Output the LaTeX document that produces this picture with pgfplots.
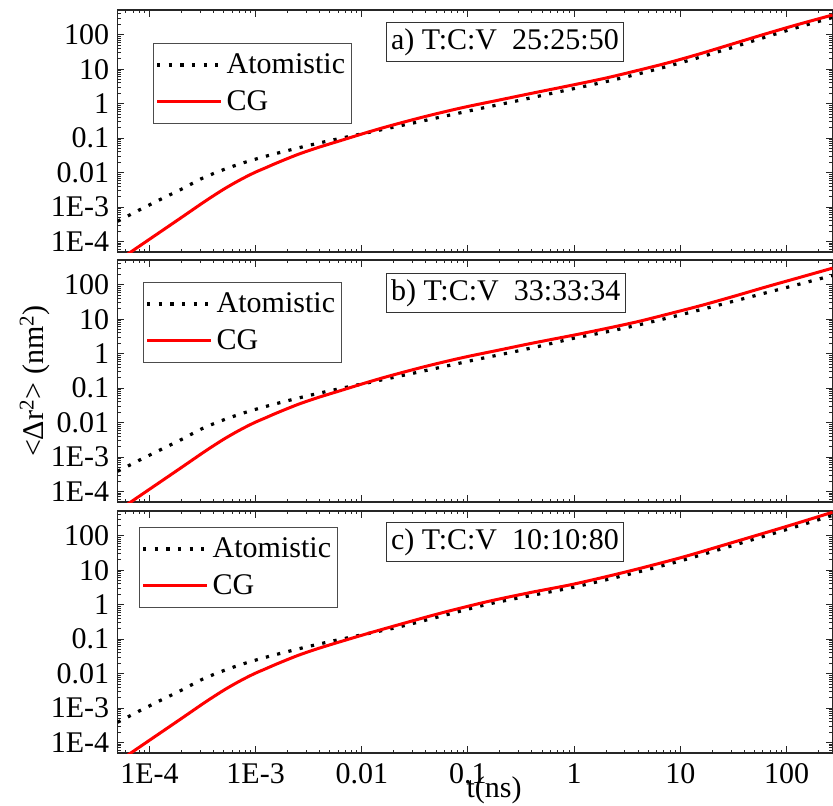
\documentclass[border=0pt]{standalone}
\usepackage{fontspec}
\setmainfont{Liberation Serif}
\usepackage{pgfplots}
\pgfplotsset{compat=1.18}

\newcommand{\lblfont}{\fontsize{15}{17.5}\selectfont}

\tikzset{
  atom/.style={black, line width=1.6pt, dash pattern=on 1.6pt off 4.2pt, smooth},
  cg/.style={red, line width=1.5pt, smooth},
  tagbox/.style={draw=black!80, line width=0.5pt, fill=white, font=\lblfont,
    inner xsep=2.3pt, inner ysep=3pt, anchor=north west},
}

\pgfplotsset{
  legend image code/.code={\draw[#1] (0pt,0pt) -- (32pt,0pt);},
  every axis/.append style={
    scale only axis, width=357.5pt, height=121pt,
    xmode=log, ymode=log,
    xmin=5e-5, xmax=271, ymin=5e-5, ymax=520,
    xtick={1e-4,1e-3,0.01,0.1,1,10,100},
    ytick={1e-4,1e-3,0.01,0.1,1,10,100},
    yticklabels={1E-4,1E-3,0.01,0.1,1,10,100},
    minor xtick={6e-5,7e-5,8e-5,9e-5,2e-4,3e-4,4e-4,5e-4,6e-4,7e-4,8e-4,9e-4,
      2e-3,3e-3,4e-3,5e-3,6e-3,7e-3,8e-3,9e-3,0.02,0.03,0.04,0.05,0.06,0.07,0.08,0.09,
      0.2,0.3,0.4,0.5,0.6,0.7,0.8,0.9,2,3,4,5,6,7,8,9,20,30,40,50,60,70,80,90,200},
    minor ytick={6e-5,7e-5,8e-5,9e-5,2e-4,3e-4,4e-4,5e-4,6e-4,7e-4,8e-4,9e-4,
      2e-3,3e-3,4e-3,5e-3,6e-3,7e-3,8e-3,9e-3,0.02,0.03,0.04,0.05,0.06,0.07,0.08,0.09,
      0.2,0.3,0.4,0.5,0.6,0.7,0.8,0.9,2,3,4,5,6,7,8,9,20,30,40,50,60,70,80,90,200,300,400,500},
    tick align=inside,
    major tick length=3.3pt, minor tick length=1.7pt,
    axis line style={black!85, line width=0.6pt},
    tick style={black!85, line width=0.5pt},
    tick label style={font=\lblfont},
    yticklabel style={inner xsep=4pt},
    xticklabel style={anchor=base, yshift=-15.25pt},
    legend cell align=left,
    legend style={font=\lblfont, draw=black!70, line width=0.5pt, anchor=north west,
      row sep=3pt, inner xsep=1pt, inner ysep=3pt},
  },
}

\begin{document}
\begin{tikzpicture}
\useasboundingbox (-58.75pt,5pt) rectangle (357.75pt,-397.5pt);

% (a) 25:25:50
\begin{axis}[at={(0pt,0pt)}, anchor=north west, xticklabels={},
  legend style={at={(0.0497,0.8636)}}]
\addplot[atom] coordinates {
  (5.01e-5,3.89e-4) (7.94e-5,8.13e-4) (1.26e-4,1.66e-3) (2.0e-4,3.31e-3) (3.16e-4,6.92e-3)
  (5.01e-4,0.0123) (7.94e-4,0.020) (1.26e-3,0.0302) (2.0e-3,0.0437) (3.16e-3,0.0617)
  (5.01e-3,0.0851) (7.94e-3,0.115) (0.0126,0.155) (0.02,0.209) (0.0316,0.282)
  (0.0631,0.447) (0.126,0.708) (0.251,1.10) (0.501,1.74) (1,2.75) (2,4.37) (3.98,7.24)
  (7.94,12.6) (15.8,22.9) (31.6,43.7) (63.1,85.1) (126,162) (271,316) };
\addplot[cg] coordinates {
  (5.01e-5,2.75e-5) (1e-4,1.17e-4) (2.0e-4,5.01e-4) (3.16e-4,1.32e-3) (3.98e-4,2.11e-3)
  (5.01e-4,3.31e-3) (6.31e-4,5.01e-3) (7.94e-4,7.33e-3) (1e-3,0.0104) (1.26e-3,0.0141)
  (1.58e-3,0.0191) (2.51e-3,0.0339) (3.98e-3,0.055) (6.31e-3,0.0851) (0.01,0.132)
  (0.0158,0.200) (0.0251,0.295) (0.0398,0.427) (0.0631,0.603) (0.1,0.832) (0.2,1.29)
  (0.398,2.0) (1,3.55) (2,5.56) (3.98,9.23) (7.94,15.8) (15.8,28.8) (31.6,55.0)
  (63.1,105) (126,195) (271,372) };
\legend{Atomistic, CG}
\node[tagbox] at (rel axis cs:0.3755,0.950) {a) T:C:V\ \ 25:25:50};
\end{axis}

% (b) 33:33:34
\begin{axis}[at={(0pt,-125pt)}, anchor=north west, xticklabels={},
  legend style={at={(0.0357,0.909)}}]
\addplot[atom] coordinates {
  (5.01e-5,3.89e-4) (7.94e-5,8.0e-4) (1.26e-4,1.62e-3) (2.0e-4,3.24e-3) (3.16e-4,6.8e-3)
  (5.01e-4,0.0121) (7.94e-4,0.0197) (1.26e-3,0.0298) (2.0e-3,0.0432) (3.16e-3,0.061)
  (5.01e-3,0.0841) (7.94e-3,0.114) (0.0126,0.153) (0.02,0.206) (0.0316,0.278)
  (0.0631,0.44) (0.126,0.70) (0.251,1.08) (0.501,1.72) (1,2.82) (2,4.27) (3.98,6.76)
  (7.94,11.2) (15.8,19.1) (31.6,33.1) (63.1,57.5) (126,100) (271,186) };
\addplot[cg] coordinates {
  (5.01e-5,2.75e-5) (1e-4,1.17e-4) (2.0e-4,5.01e-4) (3.16e-4,1.32e-3) (3.98e-4,2.11e-3)
  (5.01e-4,3.31e-3) (6.31e-4,5.01e-3) (7.94e-4,7.33e-3) (1e-3,0.0104) (1.26e-3,0.0141)
  (1.58e-3,0.0191) (2.51e-3,0.0339) (3.98e-3,0.055) (6.31e-3,0.0851) (0.01,0.132)
  (0.0158,0.200) (0.0251,0.295) (0.0398,0.427) (0.0631,0.603) (0.1,0.832) (0.2,1.29)
  (0.398,2.0) (1,3.47) (2,5.37) (3.98,8.51) (7.94,14.5) (15.8,25.1) (31.6,45.7)
  (63.1,85.1) (126,155) (271,302) };
\legend{Atomistic, CG}
\node[tagbox] at (rel axis cs:0.3755,0.946) {b) T:C:V\ \ 33:33:34};
\end{axis}

% (c) 10:10:80
\begin{axis}[at={(0pt,-250.5pt)}, anchor=north west,
  xticklabels={1E-4,1E-3,0.01,0.1,1,10,100},
  legend style={at={(0.0301,0.934)}}]
\addplot[atom] coordinates {
  (5.01e-5,3.89e-4) (7.94e-5,8.13e-4) (1.26e-4,1.66e-3) (2.0e-4,3.31e-3) (3.16e-4,6.92e-3)
  (5.01e-4,0.0123) (7.94e-4,0.020) (1.26e-3,0.0302) (2.0e-3,0.0437) (3.16e-3,0.0617)
  (5.01e-3,0.0851) (7.94e-3,0.115) (0.0126,0.155) (0.02,0.209) (0.0316,0.295)
  (0.0631,0.513) (0.158,1.05) (0.398,1.86) (1,3.24) (3.16,7.41) (10,18.6)
  (25.1,42.7) (100,151) (271,389) };
\addplot[cg] coordinates {
  (5.01e-5,2.75e-5) (1e-4,1.17e-4) (2.0e-4,5.01e-4) (3.16e-4,1.32e-3) (3.98e-4,2.11e-3)
  (5.01e-4,3.31e-3) (6.31e-4,5.01e-3) (7.94e-4,7.33e-3) (1e-3,0.0104) (1.26e-3,0.0141)
  (1.58e-3,0.0191) (2.51e-3,0.0339) (3.98e-3,0.055) (6.31e-3,0.0851) (0.01,0.13)
  (0.0158,0.195) (0.0316,0.355) (0.0631,0.631) (0.158,1.26) (0.398,2.29) (1,3.98)
  (3.16,9.12) (10,22.9) (25.1,52.5) (100,186) (271,479) };
\legend{Atomistic, CG}
\node[tagbox] at (rel axis cs:0.3755,0.955) {c) T:C:V\ \ 10:10:80};
\end{axis}

\node[rotate=90, anchor=base, font=\lblfont] at (-36.75pt,-185.5pt)
  {<Δr\textsuperscript{2}> (nm\textsuperscript{2})};
\node[anchor=base, font=\lblfont] at (188.25pt,-393.5pt) {t(ns)};
\end{tikzpicture}
\end{document}
